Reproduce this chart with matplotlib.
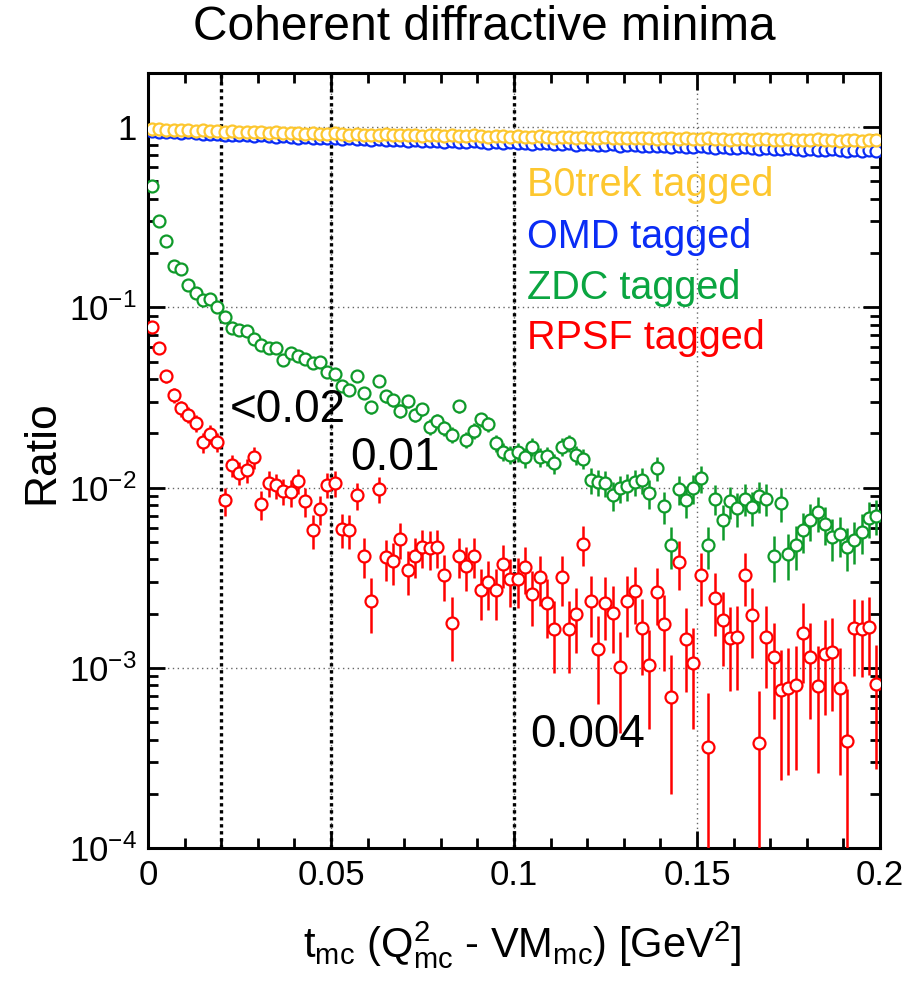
import numpy as np
import matplotlib
matplotlib.use("Agg")
import matplotlib.pyplot as plt
from matplotlib import ticker

plt.rcParams['font.family'] = ['Liberation Sans', 'DejaVu Sans']
plt.rcParams['mathtext.fontset'] = 'custom'
plt.rcParams['mathtext.rm'] = 'Liberation Sans'
plt.rcParams['mathtext.it'] = 'Liberation Sans:italic'
plt.rcParams['mathtext.bf'] = 'Liberation Sans:bold'

# binning of t: 100 bins from 0 to 0.2
t_edges = np.linspace(0.0, 0.2, 101)

# B0trek tagged ratio
b0_ratio = [0.98, 0.975, 0.97, 0.965, 0.97, 0.96, 0.955, 0.96, 0.95, 0.955,
            0.945, 0.95, 0.94, 0.945, 0.935, 0.94, 0.93, 0.935, 0.93, 0.925,
            0.93, 0.92, 0.925, 0.915, 0.92, 0.925, 0.915, 0.91, 0.92, 0.91,
            0.905, 0.91, 0.915, 0.90, 0.905, 0.91, 0.90, 0.895, 0.905, 0.90,
            0.895, 0.90, 0.89, 0.895, 0.905, 0.89, 0.885, 0.895, 0.89, 0.885,
            0.89, 0.88, 0.885, 0.89, 0.88, 0.875, 0.885, 0.88, 0.875, 0.88,
            0.87, 0.875, 0.88, 0.87, 0.865, 0.875, 0.87, 0.865, 0.87, 0.86,
            0.865, 0.87, 0.86, 0.865, 0.855, 0.86, 0.865, 0.855, 0.86, 0.85,
            0.855, 0.86, 0.85, 0.855, 0.86, 0.85, 0.845, 0.855, 0.85, 0.845,
            0.85, 0.855, 0.845, 0.85, 0.84, 0.845, 0.85, 0.84, 0.845, 0.85]

# OMD tagged ratio
omd_ratio = [0.95, 0.945, 0.94, 0.935, 0.93, 0.935, 0.925, 0.92, 0.915, 0.92,
             0.91, 0.905, 0.91, 0.90, 0.895, 0.90, 0.89, 0.885, 0.89, 0.88,
             0.875, 0.88, 0.87, 0.875, 0.865, 0.87, 0.86, 0.865, 0.855, 0.86,
             0.85, 0.855, 0.845, 0.85, 0.845, 0.84, 0.845, 0.835, 0.84, 0.835,
             0.83, 0.835, 0.825, 0.83, 0.835, 0.825, 0.82, 0.83, 0.82, 0.825,
             0.815, 0.82, 0.81, 0.815, 0.82, 0.81, 0.805, 0.815, 0.80, 0.805,
             0.81, 0.80, 0.795, 0.805, 0.79, 0.795, 0.80, 0.79, 0.785, 0.79,
             0.785, 0.78, 0.79, 0.775, 0.78, 0.785, 0.775, 0.77, 0.78, 0.77,
             0.765, 0.775, 0.765, 0.76, 0.77, 0.76, 0.755, 0.765, 0.755, 0.75,
             0.76, 0.75, 0.745, 0.755, 0.745, 0.74, 0.75, 0.74, 0.745, 0.74]

# ZDC tagged ratio
zdc_ratio = [0.47, 0.30, 0.233, 0.170, 0.164, 0.133, 0.120, 0.110, 0.111, 0.100,
             0.0887, 0.0765, 0.0748, 0.0739, 0.0665, 0.0618, 0.0597, 0.0592, 0.0510, 0.0556,
             0.0537, 0.0516, 0.0489, 0.0499, 0.0439, 0.0427, 0.0366, 0.0348, 0.0416, 0.0336,
             0.0279, 0.0391, 0.0322, 0.0306, 0.0267, 0.0302, 0.0253, 0.0272, 0.0218, 0.0235,
             0.0213, 0.0196, 0.0284, 0.0184, 0.0207, 0.0239, 0.0225, 0.0177, 0.0158, 0.0152,
             0.0158, 0.0147, 0.0169, 0.0148, 0.0150, 0.0137, 0.0169, 0.0177, 0.0152, 0.0145,
             0.0110, 0.0108, 0.0106, 0.0091, 0.0099, 0.0102, 0.0108, 0.0110, 0.0093, 0.0128,
             0.0079, 0.0048, 0.0098, 0.0085, 0.0099, 0.0113, 0.0048, 0.0087, 0.0066, 0.0084,
             0.0077, 0.0087, 0.0078, 0.0090, 0.0087, 0.0042, 0.0082, 0.0043, 0.0048, 0.0058,
             0.0066, 0.0073, 0.0063, 0.0053, 0.0055, 0.0047, 0.0051, 0.0057, 0.0068, 0.0070]

# RPSF tagged ratio
rpsf_ratio = [0.0774, 0.0592, 0.0416, 0.0326, 0.0275, 0.0253, 0.0229, 0.0178, 0.0198, 0.0180,
              0.0085, 0.0133, 0.0121, 0.0125, 0.0147, 0.0081, 0.0106, 0.0103, 0.0096, 0.0094,
              0.0109, 0.0084, 0.0058, 0.0076, 0.0104, 0.0106, 0.0059, 0.0058, 0.0091, 0.0042,
              0.00236, 0.0098, 0.0041, 0.0039, 0.0052, 0.0035, 0.0042, 0.0047, 0.0046, 0.0047,
              0.00328, 0.00178, 0.0042, 0.00367, 0.0042, 0.0027, 0.0030, 0.0027, 0.00377, 0.0031,
              0.0031, 0.00364, 0.00257, 0.00318, 0.0023, 0.00164, 0.00318, 0.00164, 0.00199, 0.00487,
              0.00236, 0.00128, 0.0023, 0.00202, 0.00101, 0.00236, 0.00268, 0.00166, 0.00104, 0.00265,
              0.00175, 0.00069, 0.00388, 0.00144, 0.00106, 0.00328, 0.000366, 0.00243, 0.00184, 0.00146,
              0.00148, 0.00328, 0.00196, 0.000382, 0.00149, 0.00115, 0.00075, 0.00077, 0.0008, 0.00156,
              0.00115, 0.00079, 0.00119, 0.00123, 0.00077, 0.000395, 0.00166, 0.00164, 0.00169, 0.00081]

# relative errors
b0_relerr = [0.02] * 100
omd_relerr = [0.02] * 100
zdc_relerr = [0.020, 0.026, 0.029, 0.034, 0.035, 0.039, 0.041, 0.043, 0.042, 0.045,
              0.047, 0.051, 0.052, 0.052, 0.055, 0.057, 0.058, 0.058, 0.063, 0.060,
              0.061, 0.062, 0.064, 0.063, 0.067, 0.068, 0.074, 0.076, 0.069, 0.077,
              0.085, 0.072, 0.079, 0.081, 0.087, 0.081, 0.089, 0.086, 0.096, 0.092,
              0.097, 0.101, 0.084, 0.104, 0.098, 0.091, 0.094, 0.106, 0.113, 0.115,
              0.118, 0.122, 0.114, 0.122, 0.121, 0.127, 0.114, 0.111, 0.120, 0.123,
              0.165, 0.167, 0.168, 0.180, 0.174, 0.171, 0.167, 0.165, 0.180, 0.153,
              0.204, 0.260, 0.180, 0.197, 0.180, 0.170, 0.260, 0.195, 0.220, 0.200,
              0.21, 0.20, 0.21, 0.20, 0.20, 0.29, 0.21, 0.29, 0.27, 0.25,
              0.23, 0.22, 0.24, 0.26, 0.25, 0.27, 0.26, 0.25, 0.23, 0.22]
rpsf_relerr = [0.059, 0.068, 0.081, 0.091, 0.099, 0.103, 0.109, 0.123, 0.117, 0.122,
               0.178, 0.142, 0.149, 0.147, 0.136, 0.183, 0.160, 0.162, 0.168, 0.169,
               0.157, 0.179, 0.216, 0.188, 0.161, 0.160, 0.214, 0.216, 0.172, 0.254,
               0.338, 0.166, 0.257, 0.263, 0.228, 0.278, 0.254, 0.240, 0.242, 0.240,
               0.287, 0.390, 0.254, 0.271, 0.254, 0.316, 0.300, 0.316, 0.268, 0.295,
               0.31, 0.29, 0.34, 0.31, 0.36, 0.43, 0.31, 0.43, 0.39, 0.25,
               0.37, 0.51, 0.38, 0.40, 0.57, 0.37, 0.35, 0.45, 0.56, 0.35,
               0.45, 0.71, 0.30, 0.49, 0.57, 0.33, 0.98, 0.38, 0.44, 0.49,
               0.49, 0.33, 0.42, 0.96, 0.48, 0.55, 0.68, 0.67, 0.66, 0.47,
               0.55, 0.67, 0.54, 0.53, 0.67, 0.94, 0.46, 0.46, 0.46, 0.66]

series = [
    ("OMD tagged", omd_ratio, omd_relerr, "#0a2cf5"),
    ("B0trek tagged", b0_ratio, b0_relerr, "#fdc72f"),
    ("ZDC tagged", zdc_ratio, zdc_relerr, "#0f9a2a"),
    ("RPSF tagged", rpsf_ratio, rpsf_relerr, "#ff0000"),
]
label_colors = {"B0trek tagged": "#fdc72f", "OMD tagged": "#0a2cf5",
                "ZDC tagged": "#0aa540", "RPSF tagged": "#ff0000"}
legend_order = ["B0trek tagged", "OMD tagged", "ZDC tagged", "RPSF tagged"]

# dotted markers of the diffractive minima and their labels
minima_t = [0.02, 0.05, 0.1]
minima_text = ["<0.02", "0.01", "0.004"]

t_centers = 0.5 * (t_edges[:-1] + t_edges[1:])

fig = plt.figure(figsize=(9.19, 9.85), dpi=100)
ax = fig.add_axes([0.161, 0.139, 0.7965, 0.787])
ax.set_yscale('log')
ax.set_xlim(0, 0.2)
ax.set_ylim(1e-4, 2.0)

for k, (name, vals, rel, col) in enumerate(series):
    y = np.array(vals)
    err = y * np.array(rel)
    lo = np.minimum(err, y - 1e-7)
    ax.errorbar(t_centers, y, yerr=[lo, err], fmt='none', ecolor=col,
                elinewidth=1.8, capsize=0, zorder=3 + k)
    ax.plot(t_centers, y, 'o', ms=8.6, mew=1.6, mec=col, mfc='white',
            zorder=3.5 + k)

for t in minima_t:
    ax.axvline(t, color='black', lw=2.4, ls=(0, (1, 1.1)), zorder=2)

# grid
ax.grid(True, which='major', color='#666666', ls=(0, (1, 2.5)), lw=1.0)
ax.set_axisbelow(True)

# ticks
ax.xaxis.set_major_locator(ticker.MultipleLocator(0.05))
ax.xaxis.set_minor_locator(ticker.MultipleLocator(0.01))
ax.xaxis.set_major_formatter(ticker.FormatStrFormatter('%g'))
ax.yaxis.set_major_locator(ticker.FixedLocator([1e-4, 1e-3, 1e-2, 1e-1, 1]))
ax.yaxis.set_major_formatter(ticker.FixedFormatter(
    [r'$\mathregular{10^{-4}}$', r'$\mathregular{10^{-3}}$',
     r'$\mathregular{10^{-2}}$', r'$\mathregular{10^{-1}}$', '1']))
ax.yaxis.set_minor_locator(ticker.LogLocator(base=10, subs=np.arange(2, 10)))
ax.yaxis.set_minor_formatter(ticker.NullFormatter())
ax.tick_params(which='both', direction='in', top=True, right=True,
               width=2.0, labelsize=25)
ax.tick_params(which='major', length=12, pad=8)
ax.tick_params(which='minor', length=7)
for sp in ax.spines.values():
    sp.set_linewidth(2.2)

# legend as coloured text
leg_y = [0.477, 0.245, 0.128, 0.0676]
for name, yy in zip(legend_order, leg_y):
    ax.text(0.1036, yy, name, color=label_colors[name], fontsize=28.5,
            va='center', ha='left', zorder=10)

# minima annotations
ax.text(0.0224, 0.027, minima_text[0], fontsize=33, va='center', ha='left', zorder=10)
ax.text(0.0552, 0.0146, minima_text[1], fontsize=33, va='center', ha='left', zorder=10)
ax.text(0.1044, 4.25e-4, minima_text[2], fontsize=33, va='center', ha='left', zorder=10)

fig.text(0.527, 0.972, "Coherent diffractive minima", fontsize=34.5,
         ha='center', va='center')
fig.text(0.568, 0.0406,
         r'$\mathregular{t_{mc}\ (Q^{2}_{mc}\ }$' + '\u2010' +
         r'$\mathregular{\ VM_{mc})\ [GeV^{2}]}$',
         fontsize=30, ha='center', va='center')
fig.text(0.046, 1 - 452 / 985, "Ratio", fontsize=32, rotation=90,
         ha='center', va='center')

fig.savefig("out.png", dpi=100)
